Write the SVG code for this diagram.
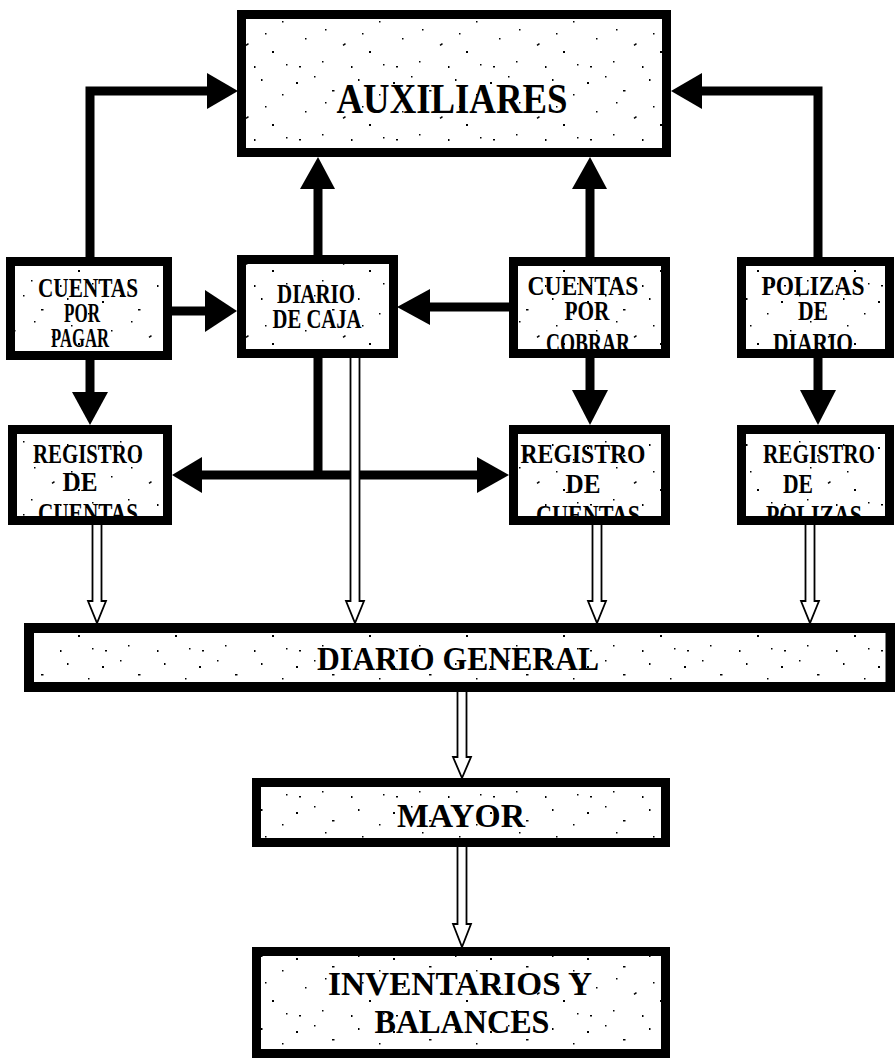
<svg xmlns="http://www.w3.org/2000/svg" width="895" height="1060" viewBox="0 0 895 1060">
  <defs>
    <!-- sparse, irregular speckle texture used inside the boxes -->
    <pattern id="speckle" width="97" height="73" patternUnits="userSpaceOnUse">
      <rect width="97" height="73" fill="#ffffff"/>
      <g fill="#000">
        <rect x="5" y="9" width="2" height="2"/>
        <rect x="23" y="3" width="1.5" height="1.5"/>
        <rect x="41" y="17" width="2.5" height="1.5"/>
        <rect x="67" y="6" width="1.5" height="2"/>
        <rect x="88" y="21" width="1.5" height="1.5"/>
        <rect x="14" y="38" width="1.5" height="1.5"/>
        <rect x="52" y="44" width="3" height="1.5" transform="rotate(-35 53 45)"/>
        <rect x="78" y="51" width="2" height="2"/>
        <rect x="31" y="61" width="1.5" height="1.5"/>
        <rect x="60" y="66" width="1.5" height="2"/>
        <rect x="92" y="64" width="1.5" height="1.5"/>
        <rect x="8" y="66" width="2" height="1.5"/>
        <rect x="71" y="33" width="1.5" height="1.5"/>
        <rect x="34" y="29" width="1.5" height="1.5"/>
      </g>
    </pattern>
  </defs>
  <style>
    .bg { fill: url(#speckle); stroke: none; }
    .frame { fill: none; stroke: #000; stroke-width: 9; }
    .lbl { font-family: "Liberation Serif", "Times New Roman", serif; font-weight: bold; fill: #000; text-anchor: middle; }
    .big { font-size: 43px; }
    .mid { font-size: 34px; }
    .sm { font-size: 28px; }
    .wire { fill: none; stroke: #000; stroke-width: 9; stroke-linejoin: miter; }
    .head { fill: #000; stroke: none; }
    .hollow { fill: #fff; stroke: #000; stroke-width: 1.8; stroke-linejoin: miter; }
  </style>

  <rect width="895" height="1060" fill="#ffffff"/>

  <!-- connectors -->
  <g id="connectors">
    <!-- Cuentas por pagar -> Auxiliares -->
    <path class="wire" d="M90,257 V91 H208"/>
    <polygon class="head" points="207,73 238,91 207,109"/>
    <!-- Polizas de diario -> Auxiliares -->
    <path class="wire" d="M818,257 V91 H701"/>
    <polygon class="head" points="702,73 671,91 702,109"/>
    <!-- Diario de caja -> Auxiliares -->
    <path class="wire" d="M318,256 V187"/>
    <polygon class="head" points="300,189 318,157 335,189"/>
    <!-- Cuentas por cobrar -> Auxiliares -->
    <path class="wire" d="M590,258 V187"/>
    <polygon class="head" points="572,189 590,157 607,189"/>
    <!-- Cuentas por pagar -> Diario de caja -->
    <path class="wire" d="M171,311 H206"/>
    <polygon class="head" points="205,290 237,311 205,332"/>
    <!-- Cuentas por cobrar -> Diario de caja -->
    <path class="wire" d="M510,307 H429"/>
    <polygon class="head" points="430,289 397,307 430,325"/>
    <!-- down into the registers -->
    <path class="wire" d="M90,359 V393"/>
    <polygon class="head" points="72,392 90,425 108,392"/>
    <path class="wire" d="M590,357 V391"/>
    <polygon class="head" points="572,390 590,425 608,390"/>
    <path class="wire" d="M818,357 V391"/>
    <polygon class="head" points="800,390 818,425 836,390"/>
    <!-- Diario de caja -> both registros de cuentas -->
    <path class="wire" d="M318,357 V475"/>
    <path class="wire" d="M201,475 H479"/>
    <polygon class="head" points="202,457 172,475 202,493"/>
    <polygon class="head" points="477,457 509,475 477,493"/>

    <!-- outlined arrows into the journal and down the chain -->
    <polygon class="hollow" points="92.5,524 101.5,524 101.5,601 106,601 97,623 88,601 92.5,601"/>
    <polygon class="hollow" points="350.5,357 359.5,357 359.5,601 364,601 355,623 346,601 350.5,601"/>
    <polygon class="hollow" points="592.5,524 601.5,524 601.5,601 606,601 597,623 588,601 592.5,601"/>
    <polygon class="hollow" points="805.5,524 814.5,524 814.5,601 819,601 810,623 801,601 805.5,601"/>
    <polygon class="hollow" points="457.5,691 466.5,691 466.5,757 471,757 462,778 453,757 457.5,757"/>
    <polygon class="hollow" points="457.5,846 466.5,846 466.5,924 471,924 462,947 453,924 457.5,924"/>
  </g>

  <g id="auxiliares">
    <rect class="bg" x="241.5" y="14.5" width="425" height="138"/>
    <text class="lbl big" x="452" y="113" textLength="231" lengthAdjust="spacingAndGlyphs">AUXILIARES</text>
    <rect class="frame" x="241.5" y="14.5" width="425" height="138"/>
  </g>

  <g id="cuentas-por-pagar">
    <rect class="bg" x="10.5" y="261.5" width="157" height="94"/>
    <text class="lbl sm" x="88" y="297" textLength="100" lengthAdjust="spacingAndGlyphs">CUENTAS</text>
    <text class="lbl sm" x="82" y="322" textLength="36" lengthAdjust="spacingAndGlyphs">POR</text>
    <text class="lbl sm" x="80" y="347" textLength="58" lengthAdjust="spacingAndGlyphs">PAGAR</text>
    <rect class="frame" x="10.5" y="261.5" width="157" height="94"/>
  </g>

  <g id="diario-de-caja">
    <rect class="bg" x="241.5" y="259.5" width="152" height="94"/>
    <text class="lbl sm" x="316" y="303" textLength="78" lengthAdjust="spacingAndGlyphs">DIARIO</text>
    <text class="lbl sm" x="317" y="328" textLength="89" lengthAdjust="spacingAndGlyphs">DE CAJA</text>
    <rect class="frame" x="241.5" y="259.5" width="152" height="94"/>
  </g>

  <g id="cuentas-por-cobrar">
    <rect class="bg" x="513.5" y="261.5" width="152" height="92"/>
    <text class="lbl sm" x="583" y="295" textLength="111" lengthAdjust="spacingAndGlyphs">CUENTAS</text>
    <text class="lbl sm" x="587" y="320" textLength="45" lengthAdjust="spacingAndGlyphs">POR</text>
    <text class="lbl sm" x="588" y="352" textLength="84" lengthAdjust="spacingAndGlyphs">COBRAR</text>
    <rect class="frame" x="513.5" y="261.5" width="152" height="92"/>
  </g>

  <g id="polizas-de-diario">
    <rect class="bg" x="741.5" y="261.5" width="148" height="92"/>
    <text class="lbl sm" x="813" y="295" textLength="103" lengthAdjust="spacingAndGlyphs">POLIZAS</text>
    <text class="lbl sm" x="813" y="320" textLength="30" lengthAdjust="spacingAndGlyphs">DE</text>
    <text class="lbl sm" x="813" y="352" textLength="80" lengthAdjust="spacingAndGlyphs">DIARIO</text>
    <rect class="frame" x="741.5" y="261.5" width="148" height="92"/>
  </g>

  <g id="registro-cuentas-pagar">
    <rect class="bg" x="12.5" y="429.5" width="155" height="91"/>
    <text class="lbl sm" x="88" y="463" textLength="110" lengthAdjust="spacingAndGlyphs">REGISTRO</text>
    <text class="lbl sm" x="80" y="491" textLength="35" lengthAdjust="spacingAndGlyphs">DE</text>
    <text class="lbl sm" x="88" y="522" textLength="100" lengthAdjust="spacingAndGlyphs">CUENTAS</text>
    <rect class="frame" x="12.5" y="429.5" width="155" height="91"/>
  </g>

  <g id="registro-cuentas-cobrar">
    <rect class="bg" x="513.5" y="429.5" width="152" height="91"/>
    <text class="lbl sm" x="583" y="463" textLength="125" lengthAdjust="spacingAndGlyphs">REGISTRO</text>
    <text class="lbl sm" x="583" y="493" textLength="35" lengthAdjust="spacingAndGlyphs">DE</text>
    <text class="lbl sm" x="588" y="524" textLength="104" lengthAdjust="spacingAndGlyphs">CUENTAS</text>
    <rect class="frame" x="513.5" y="429.5" width="152" height="91"/>
  </g>

  <g id="registro-polizas">
    <rect class="bg" x="741.5" y="429.5" width="148" height="91"/>
    <text class="lbl sm" x="819" y="463" textLength="112" lengthAdjust="spacingAndGlyphs">REGISTRO</text>
    <text class="lbl sm" x="798" y="493" textLength="30" lengthAdjust="spacingAndGlyphs">DE</text>
    <text class="lbl sm" x="814" y="524" textLength="96" lengthAdjust="spacingAndGlyphs">POLIZAS</text>
    <rect class="frame" x="741.5" y="429.5" width="148" height="91"/>
  </g>

  <g id="diario-general">
    <rect class="bg" x="29" y="628" width="861.5" height="59"/>
    <text class="lbl mid" x="458" y="670" textLength="282" lengthAdjust="spacingAndGlyphs">DIARIO GENERAL</text>
    <rect class="frame" x="29" y="628" width="861.5" height="59" style="stroke-width:10"/>
  </g>

  <g id="mayor">
    <rect class="bg" x="256.5" y="782.5" width="409" height="60"/>
    <text class="lbl mid" x="461" y="827" textLength="128" lengthAdjust="spacingAndGlyphs">MAYOR</text>
    <rect class="frame" x="256.5" y="782.5" width="409" height="60"/>
  </g>

  <g id="inventarios-y-balances">
    <rect class="bg" x="256.5" y="951.5" width="409" height="102"/>
    <text class="lbl mid" x="460" y="995" textLength="264" lengthAdjust="spacingAndGlyphs">INVENTARIOS Y</text>
    <text class="lbl mid" x="462" y="1033" textLength="175" lengthAdjust="spacingAndGlyphs">BALANCES</text>
    <rect class="frame" x="256.5" y="951.5" width="409" height="102"/>
  </g>
</svg>
